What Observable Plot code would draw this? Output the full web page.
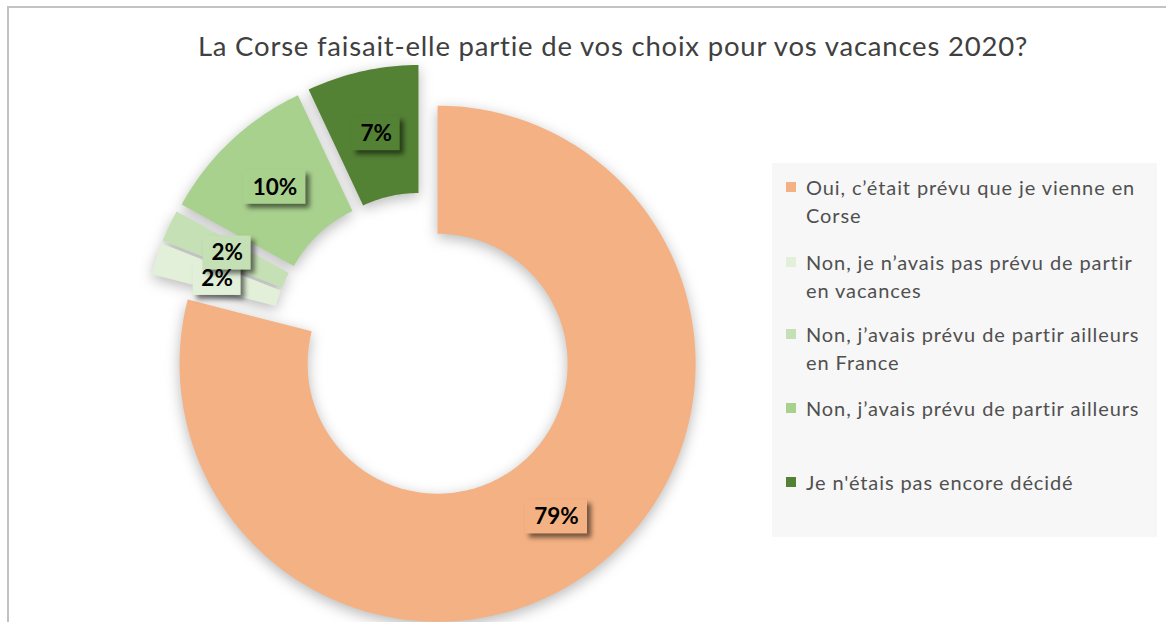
<!DOCTYPE html>
<html>
<head>
<meta charset="utf-8">
<script src="https://cdn.jsdelivr.net/npm/d3@7"></script>
<script src="https://cdn.jsdelivr.net/npm/@observablehq/plot@0.6"></script>
<style>
  html, body { margin: 0; padding: 0; background: #fff; }
  #wrap { position: relative; width: 1166px; height: 622px; overflow: hidden; background: #fff; font-family: Lato, "Open Sans", sans-serif; }
  #frame { position: absolute; left: 7px; top: 6px; right: -10px; bottom: -10px; border-top: 2px solid #c3c3c3; border-left: 2px solid #c3c3c3; }
  #chart { position: absolute; left: 0; top: 0; }
  #title { position: absolute; left: 100px; width: 1026px; top: 29px; text-align: center; font-size: 27.5px; letter-spacing: 0.8px; color: #404040; white-space: nowrap; line-height: 34px; }
  #legend { position: absolute; left: 772px; top: 163px; width: 385px; height: 374px; background: #f7f7f7; }
  .item { position: absolute; left: 14px; font-size: 20px; letter-spacing: 0.9px; line-height: 28px; color: #505050; white-space: nowrap; }
  .sw { position: absolute; left: 0; top: 9px; width: 10px; height: 10px; }
  .lt { position: absolute; left: 20px; top: 0; }
  svg g[aria-label="line"] { filter: drop-shadow(0px 4px 7px rgba(0,0,0,0.28)); }
  svg g[aria-label="rect"] rect { filter: drop-shadow(4px 4px 2.5px rgba(0,0,0,0.55)); }
</style>
</head>
<body>
<div id="wrap">
  <div id="frame"></div>
  <div id="chart"></div>
  <div id="title"></div>
  <div id="legend"></div>
</div>
<script>
// ---- data ----
const titleText = "La Corse faisait-elle partie de vos choix pour vos vacances 2020?";
const categories = [
  "Oui, c’était prévu que je vienne en Corse",
  "Non, je n’avais pas prévu de partir en vacances",
  "Non, j’avais prévu de partir ailleurs en France",
  "Non, j’avais prévu de partir ailleurs",
  "Je n'étais pas encore décidé"
];
const legendLines = [
  ["Oui, c’était prévu que je vienne en", "Corse"],
  ["Non, je n’avais pas prévu de partir", "en vacances"],
  ["Non, j’avais prévu de partir ailleurs", "en France"],
  ["Non, j’avais prévu de partir ailleurs"],
  ["Je n'étais pas encore décidé"]
];
const values = [79, 2, 2, 10, 7];
const valueLabels = ["79%", "2%", "2%", "10%", "7%"];
const colors = ["#f4b183", "#e2f0d9", "#c5e0b4", "#a9d18e", "#548235"];

// ---- geometry (unit circle; outer radius = 1) ----
const pxPerUnit = 258;
const innerR = 130 / 258;
const explode = 23 / 258;
const total = d3.sum(values);

const slicePts = [];
const labelData = [];
let cum = 0;
values.forEach((v, i) => {
  const a0 = cum / total * 2 * Math.PI;
  const a1 = (cum + v) / total * 2 * Math.PI;
  cum += v;
  const mid = (a0 + a1) / 2;
  const ox = explode * Math.sin(mid), oy = explode * Math.cos(mid);
  const n = Math.max(6, Math.ceil(v * 3));
  for (let j = 0; j <= n; j++) {
    const a = a0 + (a1 - a0) * j / n;
    slicePts.push({cat: categories[i], x: ox + Math.sin(a), y: oy + Math.cos(a)});
  }
  for (let j = n; j >= 0; j--) {
    const a = a0 + (a1 - a0) * j / n;
    slicePts.push({cat: categories[i], x: ox + innerR * Math.sin(a), y: oy + innerR * Math.cos(a)});
  }
  const rm = (1 + innerR) / 2;
  const lx = ox + rm * Math.sin(mid), ly = oy + rm * Math.cos(mid);
  const w = (valueLabels[i].length >= 3 ? 62 : 48) / 2 / pxPerUnit;
  const h = 34 / 2 / pxPerUnit;
  labelData.push({cat: categories[i], label: valueLabels[i], x: lx, y: ly, x1: lx - w, x2: lx + w, y1: ly - h, y2: ly + h});
});

const cx = 423, cy = 345;
const chart = Plot.plot({
  width: 1166,
  height: 622,
  margin: 0,
  style: {background: "transparent", fontFamily: "Lato, sans-serif"},
  x: {domain: [-1, 1], range: [cx - pxPerUnit, cx + pxPerUnit], axis: null},
  y: {domain: [-1, 1], range: [cy + pxPerUnit, cy - pxPerUnit], axis: null},
  color: {domain: categories, range: colors},
  marks: [
    Plot.line(slicePts, {x: "x", y: "y", z: "cat", fill: "cat", stroke: null, curve: "linear"}),
    Plot.rect(labelData, {x1: "x1", x2: "x2", y1: "y1", y2: "y2", fill: "cat"}),
    Plot.text(labelData, {x: "x", y: "y", text: "label", fill: "#000", fontSize: 22.5, fontWeight: "bold", fontFamily: "Lato, sans-serif"})
  ]
});
document.getElementById("chart").appendChild(chart);

document.getElementById("title").textContent = titleText;

const legend = document.getElementById("legend");
const slotTops = [10, 85, 157, 231, 305];
legendLines.forEach((lines, i) => {
  const it = document.createElement("div");
  it.className = "item";
  it.style.top = slotTops[i] + "px";
  const sw = document.createElement("div");
  sw.className = "sw";
  sw.style.background = colors[i];
  const lt = document.createElement("div");
  lt.className = "lt";
  lt.innerHTML = lines.join("<br>");
  it.appendChild(sw);
  it.appendChild(lt);
  legend.appendChild(it);
});
</script>
</body>
</html>
